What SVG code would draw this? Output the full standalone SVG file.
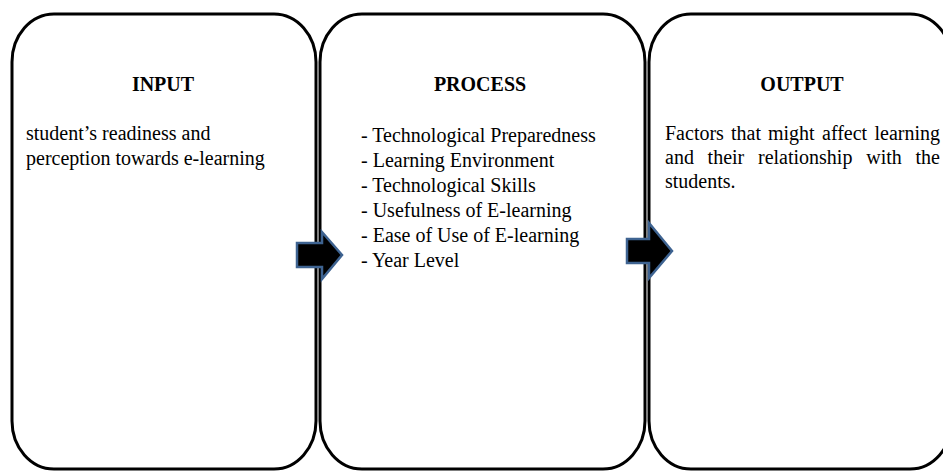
<svg xmlns="http://www.w3.org/2000/svg" width="943" height="471" viewBox="0 0 943 471">
<style>
.box{fill:#fff;stroke:#000;stroke-width:3}
.t{font-family:"Liberation Serif","Times New Roman",serif;font-size:20px;fill:#000}
.h{font-weight:bold;text-anchor:middle}
.arr{fill:#000;stroke:#3E6391;stroke-width:2.5;stroke-linejoin:miter}
</style>
<rect width="943" height="471" fill="#fff"/>
<g id="input">
<rect class="box" x="12" y="14" width="304" height="455" rx="42" ry="48"/>
<text class="t h" x="163" y="91">INPUT</text>
<text class="t" x="26" y="140">student’s readiness and</text>
<text class="t" x="26" y="165">perception towards e-learning</text>
</g>
<g id="process">
<rect class="box" x="320" y="14" width="325" height="455" rx="42" ry="48"/>
<text class="t h" x="480" y="91">PROCESS</text>
<text class="t" x="361" y="142">- Technological Preparedness</text>
<text class="t" x="361" y="167">- Learning Environment</text>
<text class="t" x="361" y="192">- Technological Skills</text>
<text class="t" x="361" y="217">- Usefulness of E-learning</text>
<text class="t" x="361" y="242">- Ease of Use of E-learning</text>
<text class="t" x="361" y="267">- Year Level</text>
</g>
<g id="output">
<rect class="box" x="649" y="14" width="303" height="455" rx="42" ry="48"/>
<text class="t h" x="802" y="91">OUTPUT</text>
<text class="t" y="140"><tspan x="665">Factors</tspan><tspan x="731">that</tspan><tspan x="768">might</tspan><tspan x="822">affect</tspan><tspan x="874.5">learning</tspan></text>
<text class="t" y="164"><tspan x="665">and</tspan><tspan x="707.6">their</tspan><tspan x="758">relationship</tspan><tspan x="866.2">with</tspan><tspan x="915.5">the</tspan></text>
<text class="t" x="665" y="188">students.</text>
</g>
<g id="connectors">
<path class="arr" d="M297,243 H322 V232 L342,255 L322,279 V267 H297 Z"/>
<path class="arr" d="M627,239 H649 V223 L672,251 L649,278 V263 H627 Z"/>
</g>
</svg>
